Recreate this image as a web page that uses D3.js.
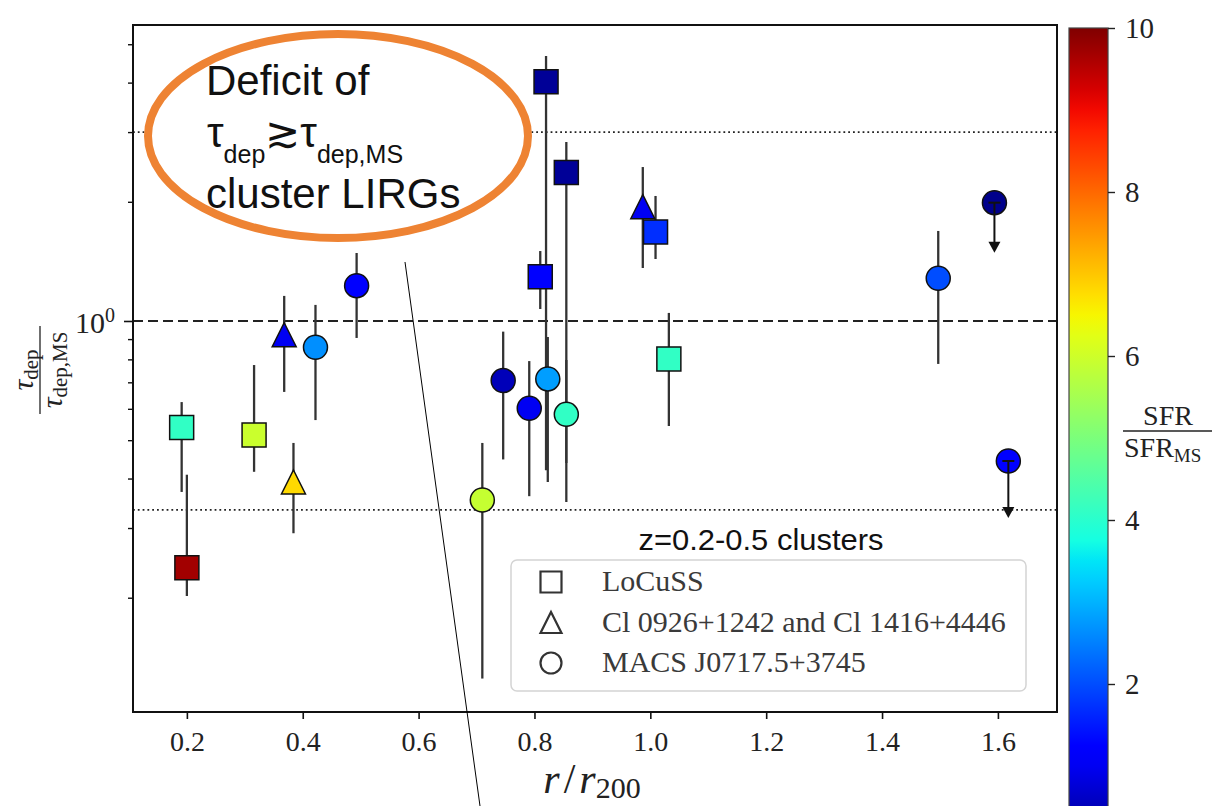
<!DOCTYPE html>
<html lang="en">
<head>
<meta charset="UTF-8">
<title>Depletion time vs cluster-centric radius</title>
<script src="https://d3js.org/d3.v7.min.js"></script>
<style>
  body { margin: 0; background: #fff; overflow: hidden; }
  svg { display: block; }
  .serif, .serif text { font-family: "Liberation Serif", "DejaVu Serif", serif; }
  .sans { font-family: "Liberation Sans", Arial, sans-serif; }
</style>
</head>
<body>
<div id="chart"></div>
<script>
// LoCuSS (squares)
const locussR     = [0.191, 0.200, 0.316, 0.820, 0.810, 0.855, 1.009, 1.032];
const locussRatio = [0.538, 0.238, 0.515, 4.02, 1.294, 2.37, 1.678, 0.802];
const locussLo    = [0.370, 0.202, 0.416, 0.420, 1.072, 0.438, 1.434, 0.543];
const locussHi    = [0.624, 0.409, 0.774, 4.67, 1.502, 2.83, 2.069, 1.048];
const locussSfr   = [4.1, 9.7, 5.95, 0.2, 1.1, 0.2, 1.7, 4.1];

// Cl 0926+1242 and Cl 1416+4446 (triangles)
const clR     = [0.368, 0.384, 0.987];
const clRatio = [0.923, 0.392, 1.944];
const clLo    = [0.662, 0.291, 1.361];
const clHi    = [1.157, 0.492, 2.448];
const clSfr   = [1.0, 6.8, 1.0];

// MACS J0717.5+3745 (circles); last two are upper limits
const macsR     = [0.422, 0.493, 0.710, 0.746, 0.791, 0.823, 0.855, 1.497, 1.594, 1.618];
const macsRatio = [0.858, 1.228, 0.353, 0.707, 0.602, 0.714, 0.581, 1.282, 1.99, 0.443];
const macsLo    = [0.562, 0.906, 0.125, 0.447, 0.361, 0.392, 0.349, 0.779, 1.488, 0.318];
const macsHi    = [1.098, 1.485, 0.492, 0.940, 0.792, 0.911, 0.797, 1.688, 1.99, 0.443];
const macsUplim = [0, 0, 0, 0, 0, 0, 0, 0, 1, 1];
const macsSfr   = [2.65, 1.1, 5.9, 0.5, 1.0, 2.8, 4.1, 2.0, 0.1, 1.2];

const xTicks = [0.2, 0.4, 0.6, 0.8, 1.0, 1.2, 1.4, 1.6];
const yMinorTicks = [0.2, 0.3, 0.4, 0.5, 0.6, 0.7, 0.8, 0.9, 2, 3, 4, 5];
const refLevels = [1 / 3, 1, 3];
const cbarTicks = [2, 4, 6, 8, 10];
const legendLabels = ["LoCuSS", "Cl 0926+1242 and Cl 1416+4446", "MACS J0717.5+3745"];
const legendShapes = ["square", "triangle", "circle"];

const width = 1212, height = 806;
const plot = { left: 133, right: 1057, top: 25, bottom: 712 };
const serif = '"Liberation Serif", "DejaVu Serif", serif';

const svg = d3.select("#chart").append("svg")
    .attr("width", width)
    .attr("height", height);

const xScale = d3.scaleLinear().domain([0.107, 1.702]).range([plot.left, plot.right]);
const yScale = d3.scaleLog().domain([0.1029, 5.592]).range([plot.bottom, plot.top]);
const cScale = d3.scaleLinear().domain([0, 10]).range([848, 28]);

// jet colormap (matplotlib segment data)
const jetR = d3.scaleLinear().domain([0, 0.35, 0.66, 0.89, 1]).range([0, 0, 1, 1, 0.5]).clamp(true);
const jetG = d3.scaleLinear().domain([0, 0.125, 0.375, 0.64, 0.91, 1]).range([0, 0, 1, 1, 0, 0]).clamp(true);
const jetB = d3.scaleLinear().domain([0, 0.11, 0.34, 0.65, 1]).range([0.5, 1, 1, 0, 0]).clamp(true);
function jet(v) {
    const t = v / 10;
    return d3.rgb(255 * jetR(t), 255 * jetG(t), 255 * jetB(t)).formatHex();
}

// reference lines
refLevels.forEach(v => {
    svg.append("line")
        .attr("x1", plot.left).attr("x2", plot.right)
        .attr("y1", yScale(v)).attr("y2", yScale(v))
        .attr("stroke", "#222")
        .attr("stroke-width", v === 1 ? 2.2 : 1.8)
        .attr("stroke-dasharray", v === 1 ? "10,5" : "1.8,3");
});

function rows(r, ratio, lo, hi, sfr, ul) {
    return r.map((d, i) => ({ r: d, v: ratio[i], lo: lo[i], hi: hi[i], sfr: sfr[i], ul: ul ? ul[i] : 0 }));
}
const series = [
    { shape: "square", data: rows(locussR, locussRatio, locussLo, locussHi, locussSfr) },
    { shape: "triangle", data: rows(clR, clRatio, clLo, clHi, clSfr) },
    { shape: "circle", data: rows(macsR, macsRatio, macsLo, macsHi, macsSfr, macsUplim) }
];

function markerPath(shape, s) {
    if (shape === "square") return `M${-s},${-s}H${s}V${s}H${-s}Z`;
    if (shape === "triangle") return `M0,${-s}L${s},${s}L${-s},${s}Z`;
    return `M${s},0A${s},${s} 0 1,1 ${-s},0A${s},${s} 0 1,1 ${s},0Z`;
}

// error bars
const errG = svg.append("g");
series.forEach(s => {
    errG.selectAll(null)
        .data(s.data.filter(d => !d.ul))
        .enter().append("line")
        .attr("x1", d => xScale(d.r)).attr("x2", d => xScale(d.r))
        .attr("y1", d => yScale(d.hi)).attr("y2", d => yScale(d.lo))
        .attr("stroke", "#333")
        .attr("stroke-width", 2.3);
});

// markers
series.forEach(s => {
    svg.append("g").selectAll("path")
        .data(s.data)
        .enter().append("path")
        .attr("transform", d => `translate(${xScale(d.r)},${yScale(d.v)})`)
        .attr("d", markerPath(s.shape, 12))
        .attr("fill", d => jet(d.sfr))
        .attr("stroke", "#111")
        .attr("stroke-width", 1.5);
});

// upper limits drawn on top
const ulData = series[2].data.filter(d => d.ul);
const ulG = svg.append("g").attr("stroke", "#111").attr("stroke-width", 2);
ulG.selectAll(".stem").data(ulData).enter().append("line")
    .attr("x1", d => xScale(d.r)).attr("x2", d => xScale(d.r))
    .attr("y1", d => yScale(d.v)).attr("y2", d => yScale(d.lo) - 6);
ulG.selectAll(".cap").data(ulData).enter().append("line")
    .attr("x1", d => xScale(d.r) - 6).attr("x2", d => xScale(d.r) + 6)
    .attr("y1", d => yScale(d.v)).attr("y2", d => yScale(d.v));
svg.append("g").selectAll("path").data(ulData).enter().append("path")
    .attr("transform", d => `translate(${xScale(d.r)},${yScale(d.lo)})`)
    .attr("d", "M0,0L-6,-11L6,-11Z")
    .attr("fill", "#111");

// frame
svg.append("rect")
    .attr("x", plot.left).attr("y", plot.top)
    .attr("width", plot.right - plot.left).attr("height", plot.bottom - plot.top)
    .attr("fill", "none").attr("stroke", "#111").attr("stroke-width", 2);

// x axis
const xAxis = svg.append("g")
    .attr("transform", `translate(0,${plot.bottom})`)
    .call(d3.axisBottom(xScale).tickValues(xTicks).tickSize(7).tickPadding(12).tickFormat(d3.format(".1f")));
xAxis.select(".domain").remove();
xAxis.selectAll("line").attr("stroke", "#111").attr("stroke-width", 1.6);
xAxis.selectAll("text").attr("fill", "#222")
    .style("font-family", serif).style("font-size", "28px");

// y axis: minor ticks and the single major
const yMinor = svg.append("g")
    .attr("transform", `translate(${plot.left},0)`)
    .call(d3.axisLeft(yScale).tickValues(yMinorTicks).tickSize(5).tickFormat(""));
yMinor.select(".domain").remove();
yMinor.selectAll("line").attr("stroke", "#111").attr("stroke-width", 1.4);

const yMajor = svg.append("g")
    .attr("transform", `translate(${plot.left},0)`)
    .call(d3.axisLeft(yScale).tickValues([1]).tickSize(9).tickFormat(""));
yMajor.select(".domain").remove();
yMajor.selectAll("line").attr("stroke", "#111").attr("stroke-width", 1.6);

const majLabel = svg.append("text")
    .attr("class", "serif")
    .attr("x", plot.left - 18).attr("y", yScale(1) + 12)
    .attr("text-anchor", "end")
    .attr("font-size", 30).attr("fill", "#222")
    .text("10");
majLabel.append("tspan").attr("dy", -11).attr("font-size", 20).text("0");

// y label (fraction, rotated)
const yLab = svg.append("g")
    .attr("class", "serif")
    .attr("transform", "translate(40,370) rotate(-90)")
    .attr("fill", "#222");
const num = yLab.append("text").attr("x", 0).attr("y", -7).attr("text-anchor", "middle");
num.append("tspan").attr("font-size", 30).attr("font-style", "italic").text("τ");
num.append("tspan").attr("font-size", 21).attr("dy", 5).text("dep");
yLab.append("line").attr("x1", -44).attr("x2", 44).attr("y1", 0).attr("y2", 0)
    .attr("stroke", "#222").attr("stroke-width", 1.3);
const den = yLab.append("text").attr("x", 0).attr("y", 22).attr("text-anchor", "middle");
den.append("tspan").attr("font-size", 30).attr("font-style", "italic").text("τ");
den.append("tspan").attr("font-size", 21).attr("dy", 5).text("dep,MS");

// x label
const xLab = svg.append("text")
    .attr("class", "serif")
    .attr("x", 592).attr("y", 793)
    .attr("text-anchor", "middle")
    .attr("fill", "#222");
xLab.append("tspan").attr("font-size", 42).attr("font-style", "italic").text("r");
xLab.append("tspan").attr("font-size", 42).attr("dx", 4).text("/");
xLab.append("tspan").attr("font-size", 42).attr("dx", 4).attr("font-style", "italic").text("r");
xLab.append("tspan").attr("font-size", 30).attr("dy", 5).text("200");

// legend
const legend = svg.append("g").attr("class", "serif");
legend.append("rect")
    .attr("x", 511).attr("y", 560).attr("width", 515).attr("height", 131).attr("rx", 6)
    .attr("fill", "#fff").attr("fill-opacity", 0.85)
    .attr("stroke", "#d4d4d4").attr("stroke-width", 1.5);
legendLabels.forEach((label, i) => {
    const cy = 582 + i * 40.5;
    legend.append("path")
        .attr("transform", `translate(551,${cy})`)
        .attr("d", markerPath(legendShapes[i], 10.5))
        .attr("fill", "none").attr("stroke", "#333").attr("stroke-width", 2.2);
    legend.append("text")
        .attr("x", 602).attr("y", cy + 9)
        .attr("font-size", 30).attr("fill", "#3a3a3a")
        .text(label);
});
svg.append("text")
    .attr("class", "sans")
    .attr("x", 761).attr("y", 550)
    .attr("text-anchor", "middle")
    .attr("font-size", 29).attr("fill", "#111")
    .attr("textLength", 245).attr("lengthAdjust", "spacingAndGlyphs")
    .text("z=0.2-0.5 clusters");

// colorbar
const defs = svg.append("defs");
const grad = defs.append("linearGradient").attr("id", "jetgrad")
    .attr("x1", 0).attr("y1", 1).attr("x2", 0).attr("y2", 0);
d3.range(0, 10.01, 0.25).forEach(v => {
    grad.append("stop").attr("offset", v / 10).attr("stop-color", jet(v));
});
const cbX = 1069, cbW = 39;
svg.append("rect")
    .attr("x", cbX).attr("y", cScale(10))
    .attr("width", cbW).attr("height", cScale(0) - cScale(10))
    .attr("fill", "url(#jetgrad)")
    .attr("stroke", "#444").attr("stroke-width", 1.2);
const cAxis = svg.append("g")
    .attr("transform", `translate(${cbX + cbW},0)`)
    .call(d3.axisRight(cScale).tickValues(cbarTicks).tickSize(7).tickPadding(10).tickFormat(d3.format("d")));
cAxis.select(".domain").remove();
cAxis.selectAll("line").attr("stroke", "#222").attr("stroke-width", 1.4);
cAxis.selectAll("text").attr("fill", "#222")
    .style("font-family", serif).style("font-size", "29px");

const cLab = svg.append("g").attr("class", "serif").attr("fill", "#222");
cLab.append("text").attr("x", 1168).attr("y", 425).attr("text-anchor", "middle")
    .attr("font-size", 28).text("SFR");
cLab.append("line").attr("x1", 1123).attr("x2", 1215).attr("y1", 431).attr("y2", 431)
    .attr("stroke", "#222").attr("stroke-width", 1.3);
const cDen = cLab.append("text").attr("x", 1124).attr("y", 457).attr("font-size", 28);
cDen.append("tspan").text("SFR");
cDen.append("tspan").attr("font-size", 19).attr("dy", 5).text("MS");

// slide annotation: ellipse, text and pointer line
const ann = svg.append("g").attr("class", "sans");
ann.append("ellipse")
    .attr("cx", 338).attr("cy", 136).attr("rx", 190).attr("ry", 102)
    .attr("fill", "#fff").attr("stroke", "#ee8333").attr("stroke-width", 8);
ann.append("text").attr("x", 206).attr("y", 95).attr("font-size", 42).attr("fill", "#111").text("Deficit of");
const l2 = ann.append("text").attr("x", 207).attr("y", 147).attr("font-size", 42).attr("fill", "#111");
l2.append("tspan").text("τ");
l2.append("tspan").attr("font-size", 25).attr("dy", 16).text("dep");
l2.append("tspan").attr("dy", -16).text("≳τ");
l2.append("tspan").attr("font-size", 25).attr("dy", 16).text("dep,MS");
ann.append("text").attr("x", 206).attr("y", 208).attr("font-size", 42).attr("fill", "#111").text("cluster LIRGs");
ann.append("line")
    .attr("x1", 405).attr("y1", 262).attr("x2", 480).attr("y2", 806)
    .attr("stroke", "#000").attr("stroke-width", 1);
</script>
</body>
</html>
